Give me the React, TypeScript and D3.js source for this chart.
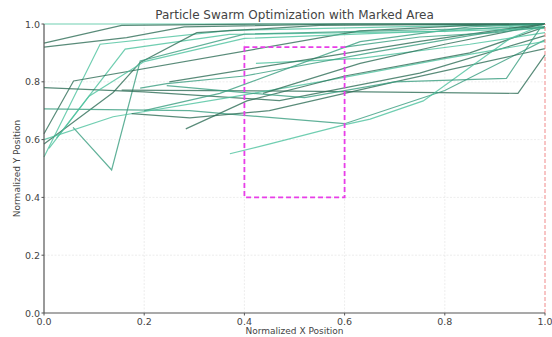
import React from "react";
import * as d3 from "d3";

const TITLE = "Particle Swarm Optimization with Marked Area";
const X_LABEL = "Normalized X Position";
const Y_LABEL = "Normalized Y Position";
const TICKS = [0, 0.2, 0.4, 0.6, 0.8, 1.0];

// tone: 0 dark, 1 medium, 2 light
const TONES = [2, 0, 0, 2, 2, 0, 0, 1, 0, 0, 1, 2, 0, 0, 2, 2, 1, 0, 1, 1, 0, 2, 1];
const PATHS: [number, number][][] = [
  [[0, 1.0], [0.3, 1.0], [0.7, 1.0], [1, 1.0]],
  [[0, 0.934], [0.155, 0.995], [0.45, 1.0], [1, 1]],
  [[0, 0.92], [0.165, 0.953], [0.28, 0.99], [0.6, 1.0], [1, 1]],
  [[0, 0.54], [0.112, 0.93], [0.371, 0.978], [0.7, 0.99], [1, 1]],
  [[0.025, 0.605], [0.162, 0.913], [0.37, 0.964], [0.8, 0.975], [1, 1]],
  [[0, 0.62], [0.059, 0.803], [0.63, 0.976], [0.85, 0.995], [1, 1]],
  [[0, 0.585], [0.138, 0.763], [0.192, 0.867], [0.305, 0.97], [0.55, 0.995], [1, 1]],
  [[0.058, 0.642], [0.135, 0.495], [0.192, 0.872], [0.4, 0.965], [1, 0.99]],
  [[0, 0.78], [0.2, 0.765], [0.47, 0.735], [0.75, 0.83], [1, 0.96]],
  [[0.155, 0.771], [0.5, 0.768], [0.946, 0.76], [1, 0.893]],
  [[0, 0.706], [0.29, 0.7], [0.6, 0.655], [0.8, 0.77], [1, 0.945]],
  [[0, 0.6], [0.138, 0.679], [0.371, 0.746], [0.55, 0.8], [0.8, 0.88], [1, 0.94]],
  [[0.175, 0.69], [0.291, 0.675], [0.45, 0.7], [0.7, 0.8], [1, 0.915]],
  [[0.283, 0.637], [0.405, 0.734], [0.6, 0.82], [0.85, 0.9], [1, 0.99]],
  [[0.371, 0.551], [0.451, 0.585], [0.601, 0.652], [0.651, 0.671], [0.757, 0.734], [0.93, 0.95], [1, 1]],
  [[0.423, 0.864], [0.631, 0.881], [0.85, 0.93], [1, 0.97]],
  [[0.192, 0.778], [0.245, 0.794], [0.4, 0.82], [0.65, 0.9], [0.85, 0.96], [1, 1]],
  [[0.437, 0.76], [0.631, 0.864], [0.8, 0.93], [1, 1]],
  [[0.245, 0.787], [0.35, 0.77], [0.52, 0.745], [0.7, 0.8], [0.923, 0.812], [0.99, 0.985]],
  [[0.2, 0.7], [0.351, 0.76], [0.631, 0.939], [0.85, 0.99], [1, 1]],
  [[0.25, 0.8], [0.5, 0.87], [0.75, 0.94], [0.95, 0.99], [1, 1]],
  [[0.01, 0.57], [0.09, 0.75], [0.2, 0.87], [0.4, 0.95], [0.7, 0.97], [1, 0.985]],
  [[0.6, 0.92], [0.75, 0.955], [0.9, 0.97], [1, 0.99]],
];
const RECT = { x0: 0.4, x1: 0.6, y0: 0.4, y1: 0.92 };
const MARK_X = 1.0;

const COLORS = ["#2f6e58", "#3a9e80", "#4cc29e"];

export default function App() {
  const W = 552, H = 337;
  const x = d3.scaleLinear().domain([0, 1]).range([44, 545]);
  const y = d3.scaleLinear().domain([0, 1]).range([313, 24]);
  const line = d3.line<[number, number]>().x(d => x(d[0])).y(d => y(d[1]));
  const font = "DejaVu Sans, sans-serif";
  return (
    <svg width={W} height={H} style={{ position: "absolute", left: 0, top: 0 }}>
      <rect width={W} height={H} fill="#fff" />
      {TICKS.slice(1, 5).map(t => (
        <g key={"g" + t}>
          <line x1={x(t)} x2={x(t)} y1={y(0)} y2={y(1)} stroke="#e8e8e8" strokeWidth={0.8} strokeDasharray="2,1.5" />
          <line x1={x(0)} x2={x(1)} y1={y(t)} y2={y(t)} stroke="#e8e8e8" strokeWidth={0.8} strokeDasharray="2,1.5" />
        </g>
      ))}
      <g fill="none" strokeWidth={1.2} strokeOpacity={0.8}>
        {PATHS.map((p, i) => (
          <path key={i} d={line(p) || ""} stroke={COLORS[TONES[i]]} />
        ))}
      </g>
      <rect x={x(RECT.x0)} y={y(RECT.y1)} width={x(RECT.x1) - x(RECT.x0)} height={y(RECT.y0) - y(RECT.y1)}
        fill="none" stroke="#e83ee8" strokeWidth={1.8} strokeDasharray="5,3" />
      <line x1={x(MARK_X)} x2={x(MARK_X)} y1={y(0)} y2={y(1)} stroke="#f08a8a" strokeWidth={1} strokeDasharray="4,2" />
      <line x1={x(0)} x2={x(0)} y1={y(0)} y2={y(1)} stroke="#555" strokeWidth={1.2} />
      <line x1={x(0)} x2={x(1)} y1={y(0)} y2={y(0)} stroke="#555" strokeWidth={1.2} />
      {TICKS.map(t => (
        <g key={"t" + t} fontFamily={font} fontSize={9.5} fill="#444">
          <line x1={x(t)} x2={x(t)} y1={y(0)} y2={y(0) + 2.5} stroke="#555" />
          <text x={x(t)} y={y(0) + 12} textAnchor="middle">{t.toFixed(1)}</text>
          <line x1={x(0) - 2.5} x2={x(0)} y1={y(t)} y2={y(t)} stroke="#555" />
          <text x={x(0) - 4} y={y(t) + 3.5} textAnchor="end">{t.toFixed(1)}</text>
        </g>
      ))}
      <text x={(x(0) + x(1)) / 2} y={19} textAnchor="middle" fontFamily={font} fontSize={12} fill="#444">{TITLE}</text>
      <text x={(x(0) + x(1)) / 2} y={334} textAnchor="middle" fontFamily={font} fontSize={9} fill="#444">{X_LABEL}</text>
      <text transform={`translate(20,${(y(0) + y(1)) / 2}) rotate(-90)`} textAnchor="middle" fontFamily={font} fontSize={9} fill="#444">{Y_LABEL}</text>
    </svg>
  );
}
